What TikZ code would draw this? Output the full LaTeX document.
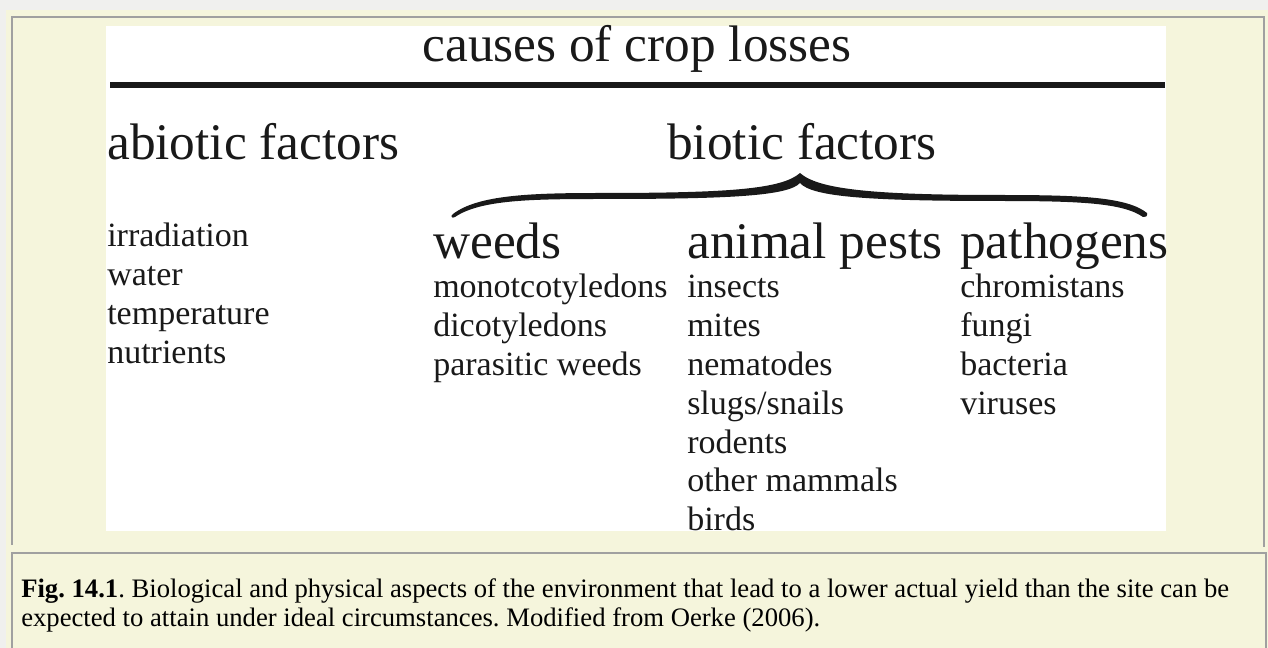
\documentclass[tikz,border=0pt]{standalone}
\usepackage{fontspec}
\setmainfont{Liberation Serif}
\usepackage{xcolor}
\usepackage{tikz}
\usetikzlibrary{positioning, calc}

\definecolor{pagegray}{RGB}{240,240,238}
\definecolor{panelbeige}{RGB}{245,245,220}
\definecolor{rulegray}{RGB}{160,160,160}
\definecolor{inkblack}{RGB}{25,25,25}

\newcommand{\headfont}{\fontsize{38.5pt}{44pt}\selectfont}
\newcommand{\entryfont}{\fontsize{25.5pt}{28.7pt}\selectfont}
\newcommand{\capfont}{\fontsize{20pt}{23pt}\selectfont}

\frenchspacing

\begin{document}
\begin{tikzpicture}[
  x=0.75pt, y=-0.75pt,
  heading/.style={font=\headfont, text=inkblack, inner sep=0pt, anchor=base west},
  entry/.style={font=\entryfont, text=inkblack, inner sep=0pt,
                text height=20.5pt, text depth=8.2pt, anchor=north west},
  caption/.style={font=\capfont, text=black, inner sep=0pt, anchor=base west}
]
\useasboundingbox (0,0) rectangle (1268,648);

% --- Page and panels ---
\fill[pagegray] (0,0) rectangle (1268,648);
\fill[panelbeige] (6,10) rectangle (1268,648);
\draw[rulegray, line width=1.2pt] (12,545) -- (12,17) -- (1264,17) -- (1264,547);
\draw[rulegray, line width=1.2pt] (12,648) -- (12,553) -- (1266,553) -- (1266,648);
\fill[white] (106,26) rectangle (1166,531);

% --- Title and rule ---
\node[heading, anchor=base] (title) at (637,62) {causes of crop losses};
\draw[line width=4.5pt, inkblack] (110,85) -- (1165,85);

% --- Two groups ---
\node[heading] (abiotic) at (107,160) {abiotic factors};
\node[heading] (biotic) at (667,160) {biotic factors};

% --- Brace under biotic factors (tapered) ---
\fill[inkblack, line join=round]
  (453,214) .. controls (478,195) and (530,193) .. (600,193)
  .. controls (730,193) and (782,189) .. (800,173)
  .. controls (818,189) and (870,195) .. (1000,195)
  .. controls (1080,195) and (1127,197) .. (1147,213)
  .. controls (1148,216) and (1145,218) .. (1143,217)
  .. controls (1123,203) and (1080,201) .. (1000,201)
  .. controls (870,201) and (812,197) .. (800,183)
  .. controls (788,196) and (730,199) .. (600,199)
  .. controls (530,199) and (480,200) .. (455,217)
  .. controls (452,219) and (450,216) .. (453,214) -- cycle;

% --- Three biotic columns ---
\node[heading] (weeds) at (433,259) {weeds};
\node[heading] (animal) at (687,259) {animal pests};
\node[heading] (patho) at (960,259) {pathogens};

% === Abiotic list ===
\node[entry, anchor=base west] (irr) at (107,247) {irradiation};
\node[entry] (water) at (irr.south west) {water};
\node[entry] (temp) at (water.south west) {temperature};
\node[entry] (nutr) at (temp.south west) {nutrients};

% === Weeds list ===
\node[entry, anchor=base west] (mono) at ($(weeds.base west)+(0,39)$) {monotcotyledons};
\node[entry] (dicot) at (mono.south west) {dicotyledons};
\node[entry] (parasit) at (dicot.south west) {parasitic weeds};

% === Animal pests list ===
\node[entry, anchor=base west] (insects) at ($(animal.base west)+(0,39)$) {insects};
\node[entry] (mites) at (insects.south west) {mites};
\node[entry] (nema) at (mites.south west) {nematodes};
\node[entry] (slugs) at (nema.south west) {slugs/snails};
\node[entry] (rodents) at (slugs.south west) {rodents};
\node[entry] (mammals) at (rodents.south west) {other mammals};
\node[entry] (birds) at (mammals.south west) {birds};

% === Pathogens list ===
\node[entry, anchor=base west] (chrom) at ($(patho.base west)+(0,39)$) {chromistans};
\node[entry] (fungi) at (chrom.south west) {fungi};
\node[entry] (bact) at (fungi.south west) {bacteria};
\node[entry] (virus) at (bact.south west) {viruses};

% --- Caption ---
\node[caption] (cap1) at (21,597) {\textbf{Fig. 14.1}. Biological and physical aspects of the environment that lead to a lower actual yield than the site can be};
\node[caption] (cap2) at ($(cap1.base west)+(0,29)$) {expected to attain under ideal circumstances. Modified from Oerke (2006).};

\end{tikzpicture}
\end{document}
